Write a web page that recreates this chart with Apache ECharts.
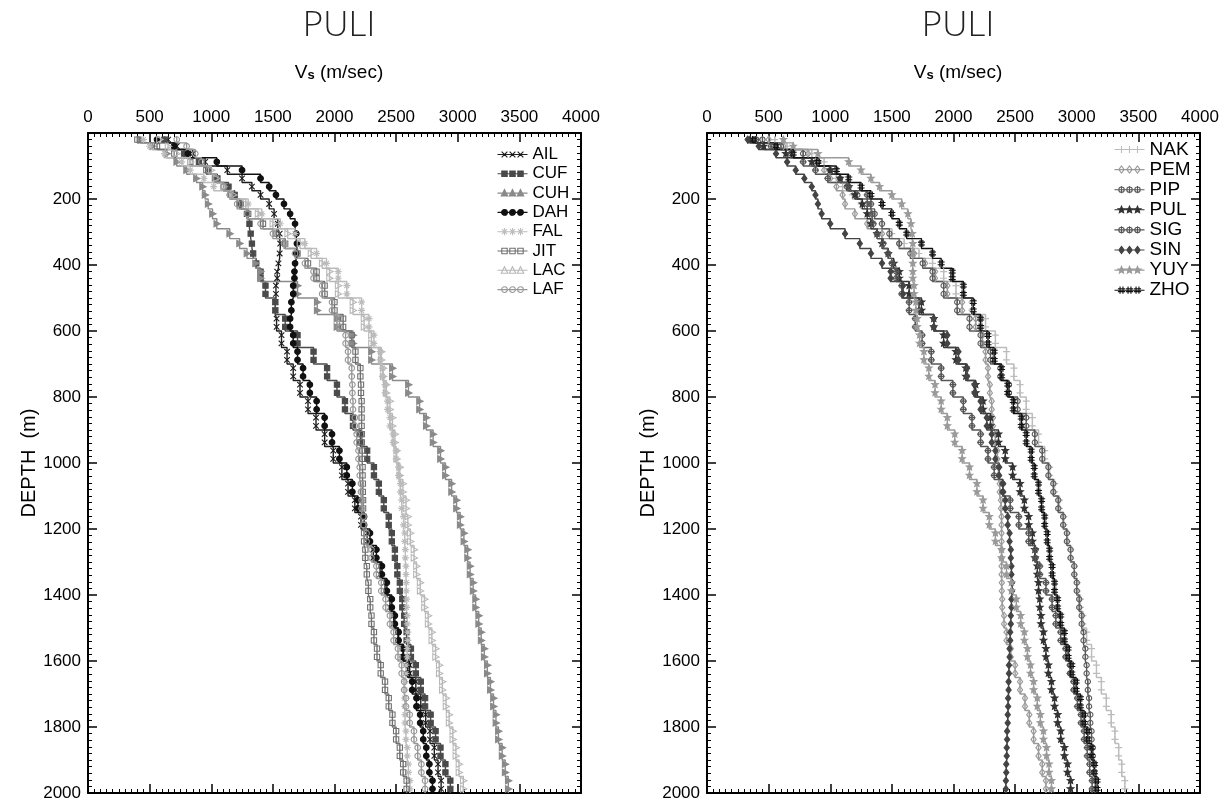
<!DOCTYPE html>
<html><head><meta charset="utf-8">
<script src="https://cdn.jsdelivr.net/npm/echarts@6/dist/echarts.min.js"></script>
<style>html,body{margin:0;padding:0;background:#fff}#c{width:1229px;height:803px}</style>
</head><body><div id="c"></div>
<script>
// ---------------- data ----------------
const xTickValues = [0, 500, 1000, 1500, 2000, 2500, 3000, 3500, 4000];
const depthTicks = [200, 400, 600, 800, 1000, 1200, 1400, 1600, 1800, 2000];
// layer top depths (m); last layer ends at 2000 m
const depthTops = [10,30,50,75,100,125,150,175,200,230,260,290,320,350,380,410,450,500,550,600,650,700,750,800,850,900,950,1000,1050,1100,1150,1200,1250,1300,1350,1400,1450,1500,1550,1600,1650,1700,1750,1800,1850,1900,1950];

// left panel
const AIL = [650,720,850,950,1130,1250,1330,1400,1470,1510,1540,1555,1560,1555,1545,1535,1525,1520,1530,1570,1615,1665,1720,1785,1850,1920,1990,2060,2110,2165,2215,2265,2315,2370,2410,2450,2480,2515,2560,2610,2660,2700,2740,2775,2810,2840,2865];
const CUF = [620,700,780,900,975,1050,1140,1190,1240,1290,1310,1320,1330,1340,1365,1400,1440,1520,1600,1700,1830,1940,2020,2085,2150,2210,2265,2320,2360,2400,2440,2465,2490,2510,2530,2550,2565,2585,2620,2660,2700,2735,2780,2820,2860,2900,2940];
const CUH = [430,520,640,720,800,880,930,950,975,1010,1045,1150,1230,1290,1360,1400,1700,1860,2020,2150,2300,2470,2600,2690,2745,2800,2860,2900,2950,2990,3020,3050,3080,3100,3125,3145,3170,3190,3215,3240,3265,3290,3310,3330,3360,3385,3410];
const DAH = [560,700,810,1045,1250,1400,1470,1525,1590,1640,1680,1690,1695,1690,1680,1675,1665,1650,1640,1665,1700,1745,1800,1855,1920,1980,2040,2100,2145,2190,2240,2288,2340,2385,2425,2465,2490,2520,2555,2595,2630,2665,2695,2720,2745,2770,2795];
const FAL = [450,500,620,760,830,940,1020,1150,1300,1410,1560,1680,1760,1855,1935,2030,2100,2220,2280,2320,2370,2390,2410,2430,2450,2475,2500,2520,2535,2545,2560,2570,2575,2580,2582,2585,2590,2595,2590,2580,2570,2570,2572,2580,2590,2600,2612];
const JIT = [400,560,700,830,960,1030,1100,1160,1230,1300,1420,1530,1600,1700,1785,1855,1920,2000,2070,2140,2170,2210,2215,2220,2220,2222,2225,2228,2230,2232,2235,2240,2250,2262,2275,2290,2300,2320,2345,2375,2410,2440,2470,2500,2530,2557,2585];
const LAC = [580,650,720,830,1000,1040,1100,1180,1280,1380,1500,1620,1720,1810,1900,1960,2030,2150,2240,2300,2380,2395,2420,2450,2470,2490,2505,2530,2555,2580,2595,2615,2645,2665,2695,2730,2760,2790,2820,2850,2875,2905,2930,2960,2985,3010,3045];
const LAF = [720,800,870,920,980,1040,1100,1150,1210,1290,1400,1500,1590,1680,1760,1830,1900,1980,2040,2090,2110,2140,2145,2150,2165,2180,2195,2205,2215,2220,2235,2260,2300,2340,2380,2415,2450,2480,2515,2545,2565,2580,2610,2645,2675,2705,2735];

// right panel
const NAK = [550,650,850,950,1000,1050,1100,1180,1250,1330,1420,1500,1600,1720,1830,1920,2020,2150,2260,2340,2430,2490,2540,2590,2640,2690,2740,2780,2820,2860,2895,2925,2950,2980,3005,3030,3050,3080,3120,3160,3200,3240,3280,3310,3340,3365,3390];
const PEM = [500,620,820,880,950,1000,1050,1100,1120,1200,1300,1420,1560,1680,1770,1850,1950,2070,2180,2235,2260,2280,2295,2310,2320,2340,2355,2365,2375,2385,2390,2390,2390,2390,2392,2395,2410,2430,2465,2500,2540,2580,2615,2650,2690,2720,2750];
const PIP = [450,600,780,900,1000,1080,1135,1220,1300,1360,1420,1480,1560,1650,1750,1830,1920,2030,2130,2220,2300,2380,2450,2520,2590,2660,2720,2770,2810,2850,2890,2920,2950,2980,3000,3020,3040,3055,3070,3080,3090,3100,3110,3120,3130,3140,3150];
const PUL = [350,460,640,850,1000,1080,1150,1200,1260,1300,1330,1380,1420,1470,1515,1560,1640,1740,1840,1920,2020,2100,2180,2240,2300,2365,2420,2480,2540,2575,2610,2640,2660,2680,2690,2700,2710,2730,2750,2770,2795,2820,2845,2870,2900,2925,2950];
const SIG = [400,520,680,780,880,980,1150,1300,1330,1340,1350,1380,1430,1470,1500,1535,1580,1640,1690,1745,1820,1900,1995,2080,2150,2220,2280,2330,2400,2460,2530,2610,2665,2700,2750,2800,2830,2870,2910,2945,2975,3005,3035,3060,3085,3105,3125];
const SIN = [330,420,560,650,720,790,850,880,900,930,1000,1120,1240,1330,1420,1490,1590,1720,1840,1950,2040,2110,2170,2220,2270,2310,2340,2370,2400,2420,2440,2455,2465,2470,2475,2470,2465,2460,2455,2450,2447,2443,2440,2435,2432,2428,2425];
const YUY = [620,700,900,1150,1250,1330,1400,1500,1580,1630,1655,1665,1670,1670,1670,1670,1680,1695,1705,1725,1760,1800,1850,1900,1950,2010,2070,2130,2190,2240,2290,2340,2390,2430,2470,2510,2545,2575,2600,2625,2650,2680,2705,2730,2755,2775,2795];
const ZHO = [380,560,700,900,1050,1150,1250,1330,1420,1500,1560,1620,1740,1830,1900,1990,2080,2160,2220,2280,2330,2390,2440,2485,2550,2590,2630,2655,2690,2715,2740,2760,2780,2800,2820,2845,2870,2900,2930,2960,2995,3030,3060,3090,3120,3145,3165];

const leftNames = ['AIL','CUF','CUH','DAH','FAL','JIT','LAC','LAF'];
const leftValues = [AIL, CUF, CUH, DAH, FAL, JIT, LAC, LAF];
const rightNames = ['NAK','PEM','PIP','PUL','SIG','SIN','YUY','ZHO'];
const rightValues = [NAK, PEM, PIP, PUL, SIG, SIN, YUY, ZHO];

// ---------------- styles ----------------
const STY = {
  AIL:{c:'#1c1c1c', s:'x', fill:false},
  CUF:{c:'#4a4a4a', s:'square', fill:true},
  CUH:{c:'#8a8a8a', s:'tri', fill:true},
  DAH:{c:'#111111', s:'circle', fill:true},
  FAL:{c:'#bcbcbc', s:'ast', fill:false},
  JIT:{c:'#707070', s:'square', fill:false},
  LAC:{c:'#b8b8b8', s:'tri', fill:false},
  LAF:{c:'#989898', s:'circle', fill:false},
  NAK:{c:'#bcbcbc', s:'plus', fill:false},
  PEM:{c:'#9a9a9a', s:'diamond', fill:false},
  PIP:{c:'#5a5a5a', s:'circbar', fill:false},
  PUL:{c:'#333333', s:'star', fill:true},
  SIG:{c:'#555555', s:'circplus', fill:false},
  SIN:{c:'#444444', s:'diamond', fill:true},
  YUY:{c:'#9a9a9a', s:'star', fill:true},
  ZHO:{c:'#111111', s:'hash', fill:false}
};
const f = n => (+n).toFixed(2);
function markerPath(shape, cx, cy, r, right) {
  const P = pts => 'M' + pts.map(p => f(p[0]) + ',' + f(p[1])).join('L') + 'Z';
  const circ = rr => `M${f(cx+rr)},${f(cy)}A${f(rr)},${f(rr)} 0 1 1 ${f(cx-rr)},${f(cy)}A${f(rr)},${f(rr)} 0 1 1 ${f(cx+rr)},${f(cy)}Z`;
  const vbar = `M${f(cx)},${f(cy-r)}L${f(cx)},${f(cy+r)}`;
  const hbar = `M${f(cx-r)},${f(cy)}L${f(cx+r)},${f(cy)}`;
  switch (shape) {
    case 'x': return `M${f(cx-r*0.8)},${f(cy-r*0.8)}L${f(cx+r*0.8)},${f(cy+r*0.8)}M${f(cx+r*0.8)},${f(cy-r*0.8)}L${f(cx-r*0.8)},${f(cy+r*0.8)}`;
    case 'plus': return vbar + hbar;
    case 'ast': { const q = r*0.7; return vbar + hbar + `M${f(cx-q)},${f(cy-q)}L${f(cx+q)},${f(cy+q)}M${f(cx+q)},${f(cy-q)}L${f(cx-q)},${f(cy+q)}`; }
    case 'hash': { const q = r*0.4; return `M${f(cx-q)},${f(cy-r)}L${f(cx-q)},${f(cy+r)}M${f(cx+q)},${f(cy-r)}L${f(cx+q)},${f(cy+r)}M${f(cx-r)},${f(cy-q)}L${f(cx+r)},${f(cy-q)}M${f(cx-r)},${f(cy+q)}L${f(cx+r)},${f(cy+q)}`; }
    case 'square': { const q = r*0.75; return P([[cx-q,cy-q],[cx+q,cy-q],[cx+q,cy+q],[cx-q,cy+q]]); }
    case 'tri': return right ? P([[cx+r,cy],[cx-r*0.8,cy-r*0.9],[cx-r*0.8,cy+r*0.9]]) : P([[cx,cy-r],[cx+r*0.9,cy+r*0.8],[cx-r*0.9,cy+r*0.8]]);
    case 'circle': return circ(r*0.8);
    case 'diamond': return P([[cx,cy-r],[cx+r*0.75,cy],[cx,cy+r],[cx-r*0.75,cy]]);
    case 'circbar': return circ(r*0.75) + vbar;
    case 'circplus': return circ(r*0.75) + vbar + hbar;
    case 'star': {
      const pts = [];
      for (let i = 0; i < 10; i++) { const a = -Math.PI/2 + i*Math.PI/5; const rr = i % 2 ? r*0.45 : r; pts.push([cx + rr*Math.cos(a), cy + rr*Math.sin(a)]); }
      return P(pts);
    }
  }
  return '';
}
function symbolFor(name) { return 'path://M0,0M10,10' + markerPath(STY[name].s, 5, 5, 5, true); }
function legendIcon(name) {
  const s = STY[name].s;
  return 'path://M0,0M30,8M0,4L30,4' + [7, 15, 23].map(cx => markerPath(s, cx, 4, 3.6, false)).join('');
}

const FONT = '"Liberation Sans", Arial, Helvetica, sans-serif';

function buildSeries(names, values, xi, yi) {
  return names.map((name, k) => {
    const vs = values[k];
    const pts = [];
    for (let i = 0; i < depthTops.length; i++) {
      const top = depthTops[i];
      const bot = i + 1 < depthTops.length ? depthTops[i + 1] : 2000;
      const th = bot - top;
      pts.push([vs[i], top, 0]);
      if (th >= 40) { pts.push([vs[i], top + th * 0.25, 1]); pts.push([vs[i], top + th * 0.75, 1]); }
      else pts.push([vs[i], top + th / 2, 1]);
      pts.push([vs[i], bot, 0]);
    }
    const st = STY[name];
    const sym = symbolFor(name);
    return {
      name, type: 'line', xAxisIndex: xi, yAxisIndex: yi,
      data: pts,
      symbol: v => (v[2] ? sym : 'none'),
      symbolSize: 7,
      showSymbol: true, showAllSymbol: true,
      lineStyle: { color: st.c, width: 1.4 },
      itemStyle: { color: st.fill ? st.c : 'none', borderColor: st.c, borderWidth: 1.1 },
      emphasis: { disabled: true },
      animation: false
    };
  });
}

const plain = v => String(v);

function xAx(grid, pos, labels) {
  return {
    type: 'value', gridIndex: grid, position: pos, min: 0, max: 4000, interval: 500,
    axisLine: { show: true, onZero: false, lineStyle: { color: '#000', width: 2 } },
    axisTick: { show: true, inside: true, length: 9, lineStyle: { color: '#000', width: 1.5 } },
    minorTick: { show: true, splitNumber: 10, length: 4, lineStyle: { color: '#000', width: 1 } },
    splitLine: { show: false }, minorSplitLine: { show: false },
    axisLabel: { show: labels, margin: 7, color: '#000', fontSize: 17, fontFamily: FONT, formatter: plain }
  };
}
function yAx(grid, pos, labels) {
  const a = {
    type: 'value', gridIndex: grid, position: pos, min: 0, max: 2000, interval: 200, inverse: true,
    axisLine: { show: true, onZero: false, lineStyle: { color: '#000', width: 2 } },
    axisTick: { show: true, inside: true, length: 9, lineStyle: { color: '#000', width: 1.5 } },
    minorTick: { show: true, splitNumber: 10, length: 4, lineStyle: { color: '#000', width: 1 } },
    splitLine: { show: false }, minorSplitLine: { show: false },
    axisLabel: { show: labels, showMinLabel: false, margin: 7, color: '#000', fontSize: 17, fontFamily: FONT, formatter: plain }
  };
  if (labels) {
    a.name = 'DEPTH  (m)';
    a.nameLocation = 'middle';
    a.nameGap = 21;
    a.nameRotate = 90;
    a.nameTextStyle = { color: '#000', fontSize: 20, fontFamily: FONT };
  }
  return a;
}

function legendFor(names, left, top, fontSize, gap) {
  return {
    orient: 'vertical', left, top, itemWidth: 30, itemHeight: 8, itemGap: gap,
    selectedMode: false,
    textStyle: { color: '#000', fontSize, lineHeight: fontSize, fontFamily: FONT, padding: [0, 0, 0, 0] },
    data: names.map(n => ({
      name: n, icon: legendIcon(n),
      itemStyle: { color: STY[n].fill ? STY[n].c : 'none', borderColor: STY[n].c, borderWidth: 1.1 }
    }))
  };
}

const titleFor = (cx) => ([
  { text: 'PULI', left: cx, top: 4, textAlign: 'center',
    textStyle: { fontSize: 35, fontWeight: 300, color: '#222', fontFamily: '"Open Sans", ' + FONT } },
  { text: '{a|V}{b|s}{a| (m/sec)}', left: cx, top: 53, textAlign: 'center',
    textStyle: { fontWeight: 'normal', rich: {
      a: { fontSize: 19, fontWeight: 'normal', color: '#000', fontFamily: FONT, verticalAlign: 'bottom', lineHeight: 24 },
      b: { fontSize: 13, fontWeight: 'bold', color: '#000', fontFamily: FONT, verticalAlign: 'bottom', lineHeight: 19 }
    } } }
]);

const chart = echarts.init(document.getElementById('c'), null, { renderer: 'canvas' });
chart.setOption({
  animation: false,
  backgroundColor: '#fff',
  title: [...titleFor(334), ...titleFor(953)],
  grid: [
    { left: 88, top: 133, width: 493, height: 660, containLabel: false },
    { left: 707, top: 133, width: 493, height: 660, containLabel: false }
  ],
  xAxis: [xAx(0, 'top', true), xAx(0, 'bottom', false), xAx(1, 'top', true), xAx(1, 'bottom', false)],
  yAxis: [yAx(0, 'left', true), yAx(0, 'right', false), yAx(1, 'left', true), yAx(1, 'right', false)],
  legend: [legendFor(leftNames, 490, 141, 17, 2.3), legendFor(rightNames, 1107, 135, 19, 1.1)],
  series: [...buildSeries(leftNames, leftValues, 0, 0), ...buildSeries(rightNames, rightValues, 2, 2)]
});
</script></body></html>
